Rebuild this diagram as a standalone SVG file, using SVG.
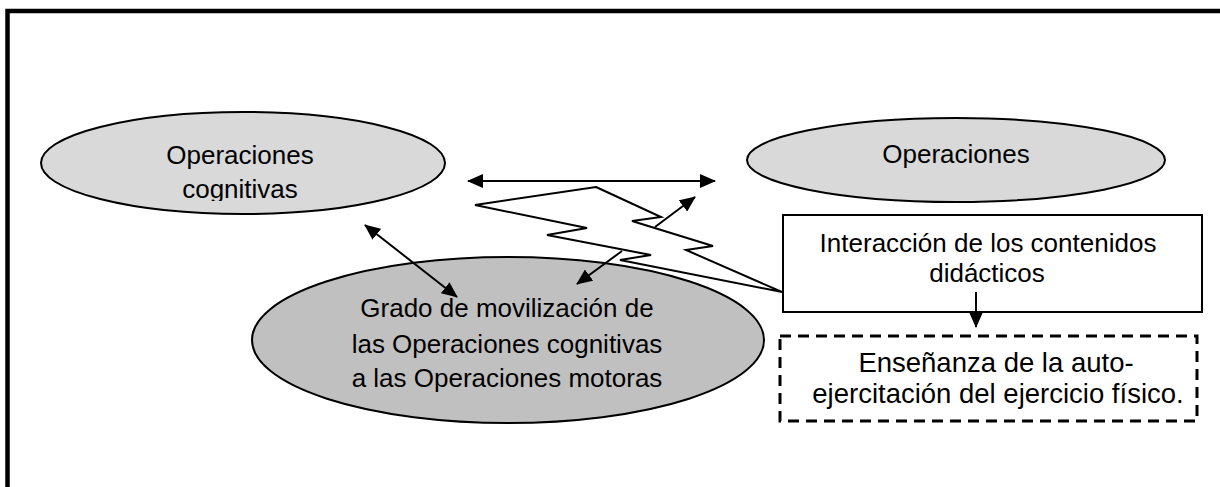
<svg xmlns="http://www.w3.org/2000/svg" width="1220" height="487" viewBox="0 0 1220 487">
<style>
text{font-family:"Liberation Sans",Arial,sans-serif;font-size:26px;fill:#000;text-anchor:middle}
.ell{stroke:#000;stroke-width:2}
.con{stroke:#000;stroke-width:2;fill:none}
</style>
<defs>
<marker id="ah" markerUnits="userSpaceOnUse" markerWidth="16" markerHeight="14" refX="15" refY="7" orient="auto-start-reverse" viewBox="0 0 16 14">
<path d="M0,0 L16,7 L0,14 z" fill="#000"/>
</marker>
<clipPath id="c1"><rect x="40" y="110" width="410" height="91"/></clipPath>
</defs>
<rect width="1220" height="487" fill="#fff"/>
<rect x="7.5" y="11" width="1230" height="500" fill="none" stroke="#000" stroke-width="4.5"/>
<g id="n1">
<ellipse class="ell" cx="243" cy="163" rx="202" ry="51" fill="#d9d9d9"/>
<g clip-path="url(#c1)">
<text x="240" y="164">Operaciones</text>
<text x="240" y="198">cognitivas</text>
</g>
</g>
<g id="n2">
<ellipse class="ell" cx="956" cy="160" rx="209" ry="42" fill="#d9d9d9"/>
<text x="956" y="163">Operaciones</text>
</g>
<g id="n3">
<ellipse class="ell" cx="508" cy="340" rx="256" ry="83" fill="#c0c0c0"/>
<text x="507" y="317">Grado de movilización de</text>
<text x="507" y="353">las Operaciones cognitivas</text>
<text x="507" y="387">a las Operaciones motoras</text>
</g>
<g id="n4">
<polygon points="596,187 661,217 632,221 713,246 686,250 782,292 620,260 651,255 547,235 587,228 475,205" fill="#fff" stroke="#000" stroke-width="2" stroke-linejoin="miter"/>
</g>
<g id="n5">
<rect x="783" y="215" width="419" height="97" fill="#fff" stroke="#000" stroke-width="2"/>
<text x="988" y="252">Interacción de los contenidos</text>
<text x="987" y="282">didácticos</text>
</g>
<g id="n6">
<rect x="780" y="336" width="417" height="85" fill="#fff" stroke="#000" stroke-width="3" stroke-dasharray="11 7"/>
<text x="996" y="372" style="font-size:27.5px">Enseñanza de la auto-</text>
<text x="998" y="403" style="font-size:27.5px">ejercitación del ejercicio físico.</text>
</g>
<g id="connectors">
<line class="con" x1="468" y1="181" x2="715" y2="181" marker-start="url(#ah)" marker-end="url(#ah)"/>
<line class="con" x1="365" y1="225" x2="457" y2="297" marker-start="url(#ah)" marker-end="url(#ah)"/>
<line class="con" x1="655" y1="227" x2="695" y2="197" marker-end="url(#ah)"/>
<line class="con" x1="622" y1="251" x2="577" y2="284" marker-end="url(#ah)"/>
<line class="con" x1="976" y1="292" x2="976" y2="327" marker-end="url(#ah)"/>
</g>
</svg>
